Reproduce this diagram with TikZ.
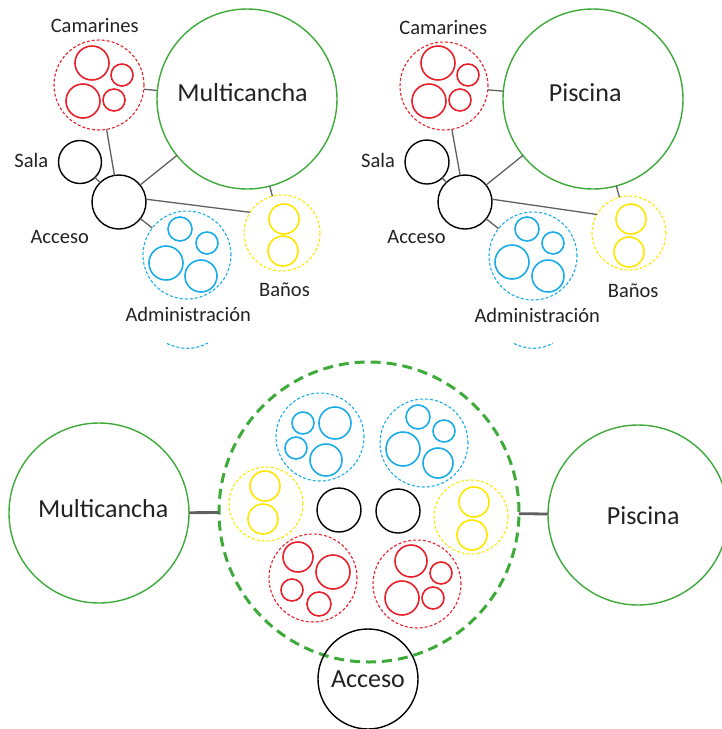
\documentclass[tikz,border=0pt]{standalone}
\usepackage{fontspec}
\setmainfont{Carlito}
\definecolor{cred}{HTML}{E8202A}
\definecolor{cblue}{HTML}{1AACE8}
\definecolor{cyel}{HTML}{FFE600}
\definecolor{cgreen}{HTML}{3DAA3A}
\definecolor{cline}{HTML}{606060}
\definecolor{ctext}{HTML}{222222}
\newcommand\ring[5]{\node[#1, minimum size={2*#5pt}] (#2) at (#3,#4) {};}
\begin{document}
\begin{tikzpicture}[x=1pt,y=-1pt,
  base/.style={circle, inner sep=0pt, outer sep=0pt},
  rin/.style={base, draw=cred, line width=1.6pt},
  bin/.style={base, draw=cblue, line width=1.6pt},
  yin/.style={base, draw=cyel, line width=1.6pt},
  rout/.style={base, draw=cred, line width=1.1pt, dash pattern=on 3pt off 2pt},
  bout/.style={base, draw=cblue, line width=1.1pt, dash pattern=on 3pt off 2pt},
  yout/.style={base, draw=cyel, line width=1.1pt, dash pattern=on 3pt off 2pt},
  gsol/.style={base, draw=cgreen, line width=1.4pt},
  blk/.style={base, draw=black, line width=1.4pt},
  gbigdash/.style={base, draw=cgreen, line width=3pt, dash pattern=on 10pt off 6pt},
  conn/.style={draw=cline, line width=1.3pt},
  connb/.style={draw=cline, line width=2.8pt},
  lbig/.style={anchor=base, inner sep=0pt, text=ctext, font=\fontsize{26}{30}\selectfont},
  lsm/.style={anchor=base, inner sep=0pt, text=ctext, font=\fontsize{20.5}{24}\selectfont},
]
\useasboundingbox (0,0) rectangle (722,729);

% ===== Top left =====
\ring{gsol}{m1}{247}{99}{90}
\ring{rout}{cam1}{99}{85}{45}
\ring{rin}{cam1a}{92}{63}{17}
\ring{rin}{cam1b}{122}{75}{11}
\ring{rin}{cam1c}{83}{101}{17}
\ring{rin}{cam1d}{114}{100}{11}
\ring{blk}{sal1}{80}{162}{21.5}
\ring{blk}{acc1}{119}{202}{27}
\ring{bout}{adm1}{187}{255}{44}
\ring{bin}{adm1a}{180}{229}{12}
\ring{bin}{adm1b}{207}{243}{11}
\ring{bin}{adm1c}{166}{263}{17}
\ring{bin}{adm1d}{201}{276}{16}
\ring{yout}{ban1}{282}{233}{38}
\ring{yin}{ban1a}{284}{219}{15}
\ring{yin}{ban1b}{283}{251}{15}
\draw[conn] (cam1) -- (m1);
\draw[conn] (cam1) -- (acc1);
\draw[conn] (sal1) -- (acc1);
\draw[conn] (acc1) -- (m1);
\draw[conn] (acc1.6) -- (ban1.147);
\draw[conn] (acc1) -- (adm1);
\draw[conn] (m1) -- (ban1);
\node[lbig] (t1) at (242.5,101.7) {Multicancha};
\node[lsm] (t2) at (94.7,32.7) {Camarines};
\node[lsm] (t3) at (31.3,167.7) {Sala};
\node[lsm] (t4) at (59.7,243) {Acceso};
\node[lsm] (t5) at (188.2,321.7) {Administración};
\node[lsm] (t6) at (284.5,296) {Baños};
\draw[cblue, line width=1.1pt, dash pattern=on 3pt off 2pt] (167,343.5) .. controls (181,350) and (195,350) .. (208,343);

% ===== Top right =====
\ring{gsol}{p1}{593}{99}{90}
\ring{rout}{cam2}{444}{86}{44}
\ring{rin}{cam2a}{438}{63}{17}
\ring{rin}{cam2b}{468}{75}{11}
\ring{rin}{cam2c}{429}{101}{17}
\ring{rin}{cam2d}{460}{100}{11}
\ring{blk}{sal2}{427}{162}{22}
\ring{blk}{acc2}{465}{202}{27}
\ring{bout}{adm2}{533}{256}{44}
\ring{bin}{adm2a}{527}{229}{12}
\ring{bin}{adm2b}{553}{243}{11}
\ring{bin}{adm2c}{512}{262}{17}
\ring{bin}{adm2d}{548}{276}{16}
\ring{yout}{ban2}{629}{233}{37}
\ring{yin}{ban2a}{631}{219}{15}
\ring{yin}{ban2b}{629}{252}{15}
\draw[conn] (cam2) -- (p1);
\draw[conn] (cam2) -- (acc2);
\draw[conn] (sal2) -- (acc2);
\draw[conn] (acc2) -- (p1);
\draw[conn] (acc2.6) -- (ban2.150);
\draw[conn] (acc2) -- (adm2);
\draw[conn] (p1) -- (ban2);
\node[lbig] (u1) at (585.2,101.7) {Piscina};
\node[lsm] (u2) at (443.3,34) {Camarines};
\node[lsm] (u3) at (378,167.7) {Sala};
\node[lsm] (u4) at (416.5,243.3) {Acceso};
\node[lsm] (u5) at (537.2,322.7) {Administración};
\node[lsm] (u6) at (633.2,297.3) {Baños};
\draw[cblue, line width=1.1pt, dash pattern=on 3pt off 2pt] (514,343.5) .. controls (527,350) and (541,350) .. (553,343);

% ===== Bottom =====
\ring{gbigdash}{big}{369}{512}{150}
\ring{gsol}{m3}{99}{513}{90}
\ring{gsol}{p3}{638}{515}{90}
\ring{blk}{acc3}{368}{679}{50}
\draw[connb] (m3) -- (big);
\draw[connb] (big) -- (p3);
% blue left
\ring{bout}{b3}{320}{437}{44}
\ring{bin}{b3a}{303}{423}{11}
\ring{bin}{b3b}{335}{423}{16}
\ring{bin}{b3c}{296}{448}{11}
\ring{bin}{b3d}{326}{460}{16}
% blue right
\ring{bout}{b4}{424}{443}{44}
\ring{bin}{b4a}{418}{417}{12}
\ring{bin}{b4b}{444}{431}{11}
\ring{bin}{b4c}{403}{449}{17}
\ring{bin}{b4d}{438}{463}{15}
% yellow
\ring{yout}{y3}{266}{504}{37}
\ring{yin}{y3a}{265}{486}{15}
\ring{yin}{y3b}{263}{519}{15}
\ring{yout}{y4}{471}{517}{37}
\ring{yin}{y4a}{474}{502}{15}
\ring{yin}{y4b}{472}{535}{15}
% black
\ring{blk}{k3}{339}{510}{22}
\ring{blk}{k4}{398}{511}{22}
% red
\ring{rout}{r3}{313}{578}{44}
\ring{rin}{r3a}{298}{557}{15}
\ring{rin}{r3b}{333}{572}{17}
\ring{rin}{r3c}{292}{590}{11}
\ring{rin}{r3d}{319}{604}{12}
\ring{rout}{r4}{417}{584}{44}
\ring{rin}{r4a}{411}{561}{16}
\ring{rin}{r4b}{441}{573}{11}
\ring{rin}{r4c}{402}{598}{17}
\ring{rin}{r4d}{433}{598}{11}
\node[lbig] (v1) at (103.2,517.3) {Multicancha};
\node[lbig] (v2) at (643.2,524) {Piscina};
\node[lbig] (v3) at (368,687.7) {Acceso};
\end{tikzpicture}
\end{document}
